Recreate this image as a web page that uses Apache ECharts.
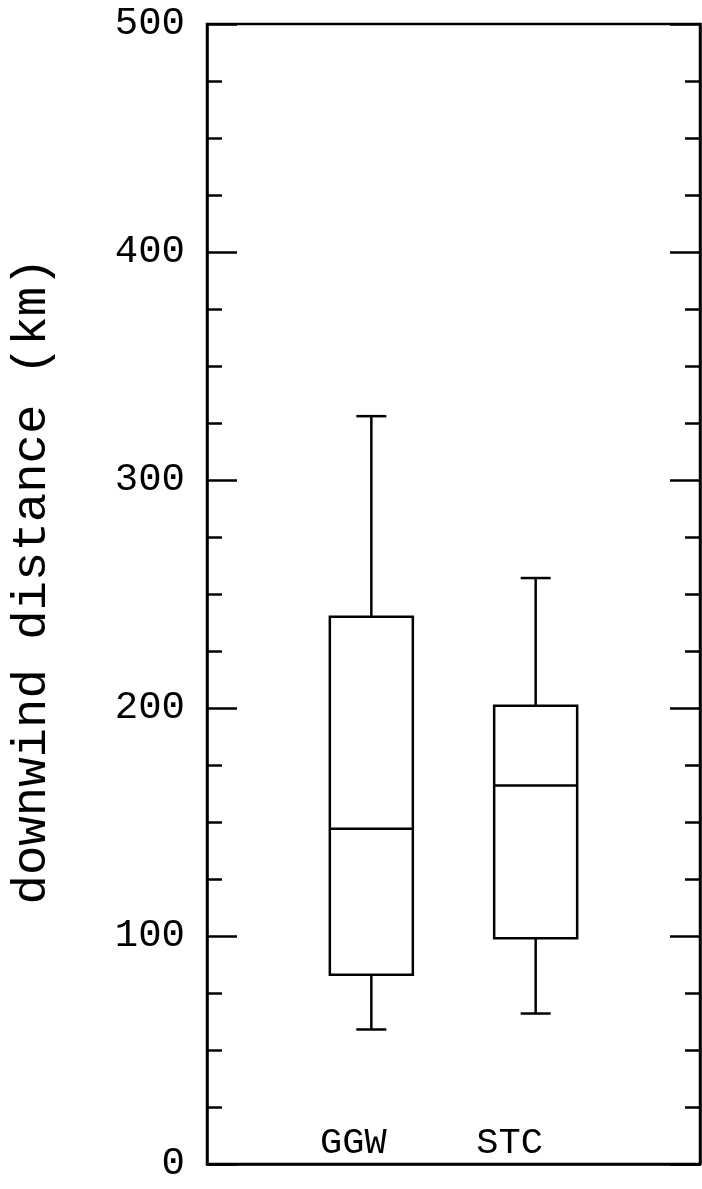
<!DOCTYPE html>
<html>
<head>
<meta charset="utf-8">
<script src="https://cdn.jsdelivr.net/npm/echarts@6/dist/echarts.min.js"></script>
<style>
  html, body { margin: 0; padding: 0; background: #fff; }
  #box_downwind { width: 702px; height: 1189px; }
</style>
</head>
<body>
<div id="box_downwind"></div>
<script>
// categories and box statistics (km)
var categories = ['GGW', 'STC'];
var mins    = [59, 66];
var q1s     = [83, 99];
var medians = [147, 166];
var q3s     = [240, 201];
var maxs    = [328, 257];
var yTicks  = [0, 100, 200, 300, 400, 500];

// blank slots at both ends so the boxes sit at 1/3 and 2/3 of the frame
var axisCats = [''].concat(categories, ['']);
var boxData = categories.map(function (c, i) {
    return [i + 1, mins[i], q1s[i], medians[i], q3s[i], maxs[i]];
});

var BOX_W = 83;
var CAP_W = 30;
var FONT = '"Liberation Mono", "DejaVu Sans Mono", monospace';

var myChart = echarts.init(document.getElementById('box_downwind'));

function tickAxis(pos, showLabel) {
    return {
        type: 'value',
        position: pos,
        min: yTicks[0],
        max: yTicks[yTicks.length - 1],
        interval: yTicks[1] - yTicks[0],
        axisLine: { show: true, lineStyle: { color: '#000', width: 2.5 } },
        axisTick: { show: true, inside: true, length: 30, lineStyle: { color: '#000', width: 2.5 } },
        minorTick: { show: true, splitNumber: 4, length: 15, lineStyle: { color: '#000', width: 2.5 } },
        splitLine: { show: false },
        axisLabel: {
            show: showLabel,
            margin: 22,
            color: '#000',
            fontFamily: FONT,
            fontSize: 39
        }
    };
}

var leftAxis = tickAxis('left', true);
leftAxis.name = 'downwind distance (km)';
leftAxis.nameLocation = 'middle';
leftAxis.nameGap = 150;
leftAxis.nameTextStyle = {
    color: '#000',
    fontFamily: FONT,
    fontSize: 49,
    padding: [0, 0, 0, 26]
};

var options = {
    animation: false,
    grid: {
        left: 207,
        right: 2,
        top: 24,
        bottom: 25,
        outerBoundsMode: 'none',
        show: true,
        borderColor: '#000',
        borderWidth: 2.5
    },
    xAxis: {
        type: 'category',
        data: axisCats,
        boundaryGap: false,
        axisLine: { show: true, lineStyle: { color: '#000', width: 2.5 } },
        axisTick: { show: false },
        axisLabel: {
            inside: true,
            margin: 2,
            interval: 0,
            formatter: function (v) {
                return v === 'GGW' ? '{g|' + v + '}' : (v === 'STC' ? '{s|' + v + '}' : '');
            },
            rich: {
                g: { color: '#000', fontFamily: FONT, fontSize: 37, padding: [0, 36, 0, 0] },
                s: { color: '#000', fontFamily: FONT, fontSize: 37, padding: [0, 52, 0, 0] }
            }
        }
    },
    yAxis: [leftAxis, tickAxis('right', false)],
    series: [
        {
            type: 'custom',
            data: boxData,
            encode: { x: 0, y: [1, 2, 3, 4, 5] },
            renderItem: function (params, api) {
                var x = api.value(0);
                var pMin = api.coord([x, api.value(1)]);
                var pQ1 = api.coord([x, api.value(2)]);
                var pMed = api.coord([x, api.value(3)]);
                var pQ3 = api.coord([x, api.value(4)]);
                var pMax = api.coord([x, api.value(5)]);
                var cx = pMed[0];
                var hb = BOX_W / 2, hc = CAP_W / 2;
                var st = { stroke: '#000', lineWidth: 2.5, fill: null };
                return {
                    type: 'group',
                    children: [
                        { type: 'rect', shape: { x: cx - hb, y: pQ3[1], width: BOX_W, height: pQ1[1] - pQ3[1] }, style: st },
                        { type: 'line', shape: { x1: cx - hb, y1: pMed[1], x2: cx + hb, y2: pMed[1] }, style: st },
                        { type: 'line', shape: { x1: cx, y1: pQ3[1], x2: cx, y2: pMax[1] }, style: st },
                        { type: 'line', shape: { x1: cx, y1: pQ1[1], x2: cx, y2: pMin[1] }, style: st },
                        { type: 'line', shape: { x1: cx - hc, y1: pMax[1], x2: cx + hc, y2: pMax[1] }, style: st },
                        { type: 'line', shape: { x1: cx - hc, y1: pMin[1], x2: cx + hc, y2: pMin[1] }, style: st }
                    ]
                };
            }
        }
    ]
};

myChart.setOption(options);
window.addEventListener('resize', function () {
    myChart.resize();
});
</script>
</body>
</html>
